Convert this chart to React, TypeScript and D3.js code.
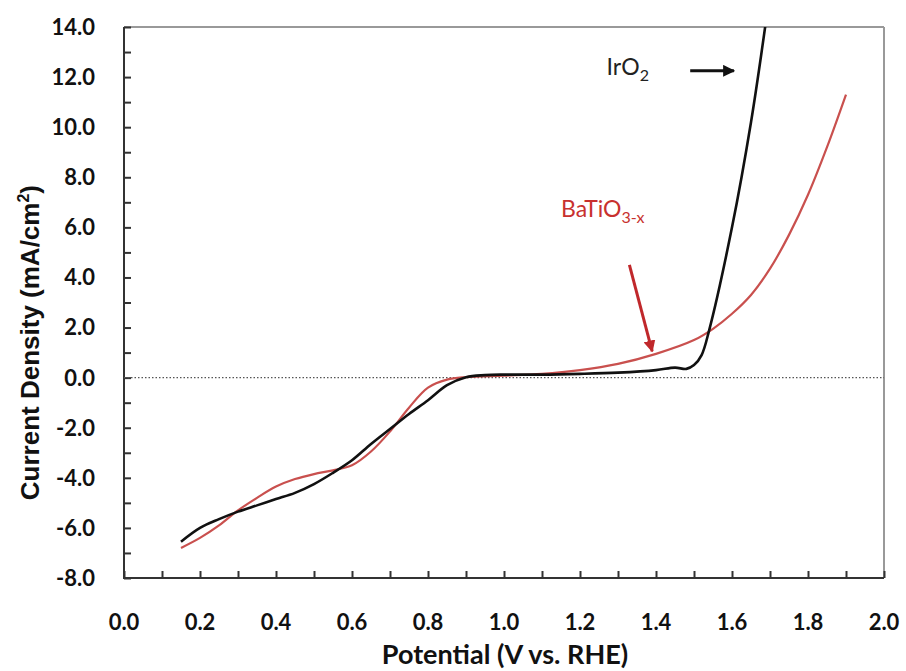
import { useEffect, useRef } from "react";
import * as d3 from "d3";

// IrO2 polarization curve (V vs. RHE, mA/cm2)
const iroX = [0.15, 0.2, 0.25, 0.3, 0.35, 0.4, 0.45, 0.5, 0.55, 0.6, 0.65, 0.7, 0.75, 0.8, 0.85, 0.9, 0.95, 1.0, 1.1, 1.2, 1.3, 1.4, 1.45, 1.48, 1.5, 1.52, 1.54, 1.6, 1.65, 1.69];
const iroY = [-6.55, -6.0, -5.65, -5.35, -5.1, -4.85, -4.6, -4.25, -3.8, -3.3, -2.65, -2.05, -1.45, -0.9, -0.3, 0.02, 0.1, 0.12, 0.12, 0.15, 0.2, 0.3, 0.4, 0.35, 0.5, 0.9, 1.9, 6.0, 10.2, 14.3];

// BaTiO3-x polarization curve
const btoX = [0.15, 0.2, 0.25, 0.3, 0.35, 0.4, 0.45, 0.5, 0.55, 0.6, 0.65, 0.7, 0.75, 0.8, 0.85, 0.9, 1.0, 1.1, 1.2, 1.3, 1.4, 1.5, 1.55, 1.6, 1.65, 1.7, 1.75, 1.8, 1.85, 1.9];
const btoY = [-6.8, -6.4, -5.9, -5.3, -4.8, -4.35, -4.05, -3.85, -3.7, -3.5, -2.95, -2.15, -1.2, -0.4, -0.08, 0.02, 0.08, 0.15, 0.3, 0.55, 0.95, 1.5, 1.95, 2.55, 3.3, 4.35, 5.7, 7.3, 9.2, 11.3];

const xTickLabels = ["0.0", "0.2", "0.4", "0.6", "0.8", "1.0", "1.2", "1.4", "1.6", "1.8", "2.0"];
const yTickLabels = ["-8.0", "-6.0", "-4.0", "-2.0", "0.0", "2.0", "4.0", "6.0", "8.0", "10.0", "12.0", "14.0"];

export default function App() {
  const svgRef = useRef<SVGSVGElement>(null);

  useEffect(() => {
    if (!svgRef.current) return;
    const width = 906;
    const height = 671;
    const margin = { top: 27, right: 22, bottom: 93, left: 124 };
    const innerWidth = width - margin.left - margin.right;
    const innerHeight = height - margin.top - margin.bottom;

    d3.select(svgRef.current).selectAll("*").remove();
    const svg = d3.select(svgRef.current).attr("width", width).attr("height", height);

    const defs = svg.append("defs");
    defs.append("clipPath").attr("id", "plot-clip")
      .append("rect").attr("width", innerWidth).attr("height", innerHeight);
    const mk = (id: string, color: string) =>
      defs.append("marker").attr("id", id).attr("viewBox", "0 0 10 10")
        .attr("refX", 9).attr("refY", 5).attr("markerWidth", 4).attr("markerHeight", 4)
        .attr("orient", "auto").attr("markerUnits", "strokeWidth")
        .append("path").attr("d", "M0,0 L10,5 L0,10 z").attr("fill", color);
    mk("head-black", "#111");
    mk("head-red", "#c0282b");

    const g = svg.append("g").attr("transform", `translate(${margin.left},${margin.top})`);

    const x = d3.scaleLinear().domain([0, 2]).range([0, innerWidth]);
    const y = d3.scaleLinear().domain([-8, 14]).range([innerHeight, 0]);

    const tickFont = "Lato, 'Open Sans', sans-serif";

    // frame: top and right lighter
    g.append("line").attr("x1", 0).attr("x2", innerWidth).attr("y1", 0).attr("y2", 0)
      .attr("stroke", "#999").attr("stroke-width", 2);
    g.append("line").attr("x1", innerWidth).attr("x2", innerWidth).attr("y1", 0).attr("y2", innerHeight)
      .attr("stroke", "#999").attr("stroke-width", 2);

    // y ticks every 1.0, inward
    const yAxis = d3.axisRight(y).tickValues(d3.range(-8, 14.01, 1)).tickSize(7).tickFormat(() => "");
    const ya = g.append("g").call(yAxis);
    ya.select(".domain").attr("stroke", "#333").attr("stroke-width", 2).attr("d", `M0,0V${innerHeight}`);
    ya.selectAll(".tick line").attr("stroke", "#333").attr("stroke-width", 2);

    // x ticks every 0.1, inward
    const xAxis = d3.axisTop(x).tickValues(d3.range(0, 2.001, 0.1)).tickSize(7).tickFormat(() => "");
    const xa = g.append("g").attr("transform", `translate(0,${innerHeight})`).call(xAxis);
    xa.select(".domain").attr("stroke", "#333").attr("stroke-width", 2).attr("d", `M-1,0H${innerWidth}`);
    xa.selectAll(".tick line").attr("stroke", "#333").attr("stroke-width", 2);

    // tick labels
    g.append("g").selectAll("text").data(yTickLabels).join("text")
      .attr("x", -29).attr("y", (d) => y(+d)).attr("dy", "0.36em")
      .attr("text-anchor", "end").attr("font-family", tickFont).attr("font-weight", 700)
      .attr("font-size", 22).attr("fill", "#111").text((d) => d);
    g.append("g").selectAll("text").data(xTickLabels).join("text")
      .attr("x", (d) => x(+d)).attr("y", innerHeight + 52)
      .attr("text-anchor", "middle").attr("font-family", tickFont).attr("font-weight", 700)
      .attr("font-size", 22).attr("fill", "#111").text((d) => d);

    // zero reference line
    g.append("line").attr("x1", 0).attr("x2", innerWidth).attr("y1", y(0)).attr("y2", y(0))
      .attr("stroke", "#555").attr("stroke-width", 1.3).attr("stroke-dasharray", "1.5,2");

    const line = d3.line<[number, number]>()
      .x((d) => x(d[0])).y((d) => y(d[1])).curve(d3.curveCatmullRom.alpha(0.5));

    const plot = g.append("g").attr("clip-path", "url(#plot-clip)");
    plot.append("path").datum(btoX.map((v, i) => [v, btoY[i]] as [number, number]))
      .attr("d", line).attr("fill", "none").attr("stroke", "#c9504e").attr("stroke-width", 2.2);
    plot.append("path").datum(iroX.map((v, i) => [v, iroY[i]] as [number, number]))
      .attr("d", line).attr("fill", "none").attr("stroke", "#111").attr("stroke-width", 2.6);

    // annotations
    const iro = g.append("text").attr("x", x(1.27)).attr("y", y(12.1))
      .attr("font-family", tickFont).attr("font-size", 23).attr("fill", "#222");
    iro.append("tspan").text("IrO");
    iro.append("tspan").attr("font-size", 16).attr("dy", 6).text("2");
    g.append("line").attr("x1", x(1.49)).attr("x2", x(1.605)).attr("y1", y(12.25)).attr("y2", y(12.25))
      .attr("stroke", "#111").attr("stroke-width", 3).attr("marker-end", "url(#head-black)");

    const bto = g.append("text").attr("x", x(1.15)).attr("y", y(6.4))
      .attr("font-family", tickFont).attr("font-size", 23).attr("fill", "#c8312e");
    bto.append("tspan").text("BaTiO");
    bto.append("tspan").attr("font-size", 16).attr("dy", 6).text("3-x");
    g.append("line").attr("x1", x(1.33)).attr("x2", x(1.39)).attr("y1", y(4.5)).attr("y2", y(1.05))
      .attr("stroke", "#c0282b").attr("stroke-width", 3).attr("marker-end", "url(#head-red)");

    // axis titles
    g.append("text").attr("x", innerWidth / 2 + 1).attr("y", innerHeight + 86)
      .attr("text-anchor", "middle").attr("font-family", tickFont).attr("font-weight", 700)
      .attr("font-size", 27).attr("fill", "#111").text("Potential (V vs. RHE)");
    const yt = g.append("text").attr("transform", `translate(${-85},${y(1.4)}) rotate(-90)`)
      .attr("text-anchor", "middle").attr("font-family", "'Liberation Sans', Arial, sans-serif")
      .attr("font-weight", 700).attr("font-size", 26).attr("fill", "#111");
    yt.append("tspan").text("Current Density  (mA/cm");
    yt.append("tspan").attr("font-size", 16).attr("dy", -10).text("2");
    yt.append("tspan").attr("dy", 10).text(")");
  }, []);

  return (
    <div style={{ position: "absolute", left: 0, top: 0, background: "#fff" }}>
      <svg ref={svgRef} style={{ display: "block" }} />
    </div>
  );
}
